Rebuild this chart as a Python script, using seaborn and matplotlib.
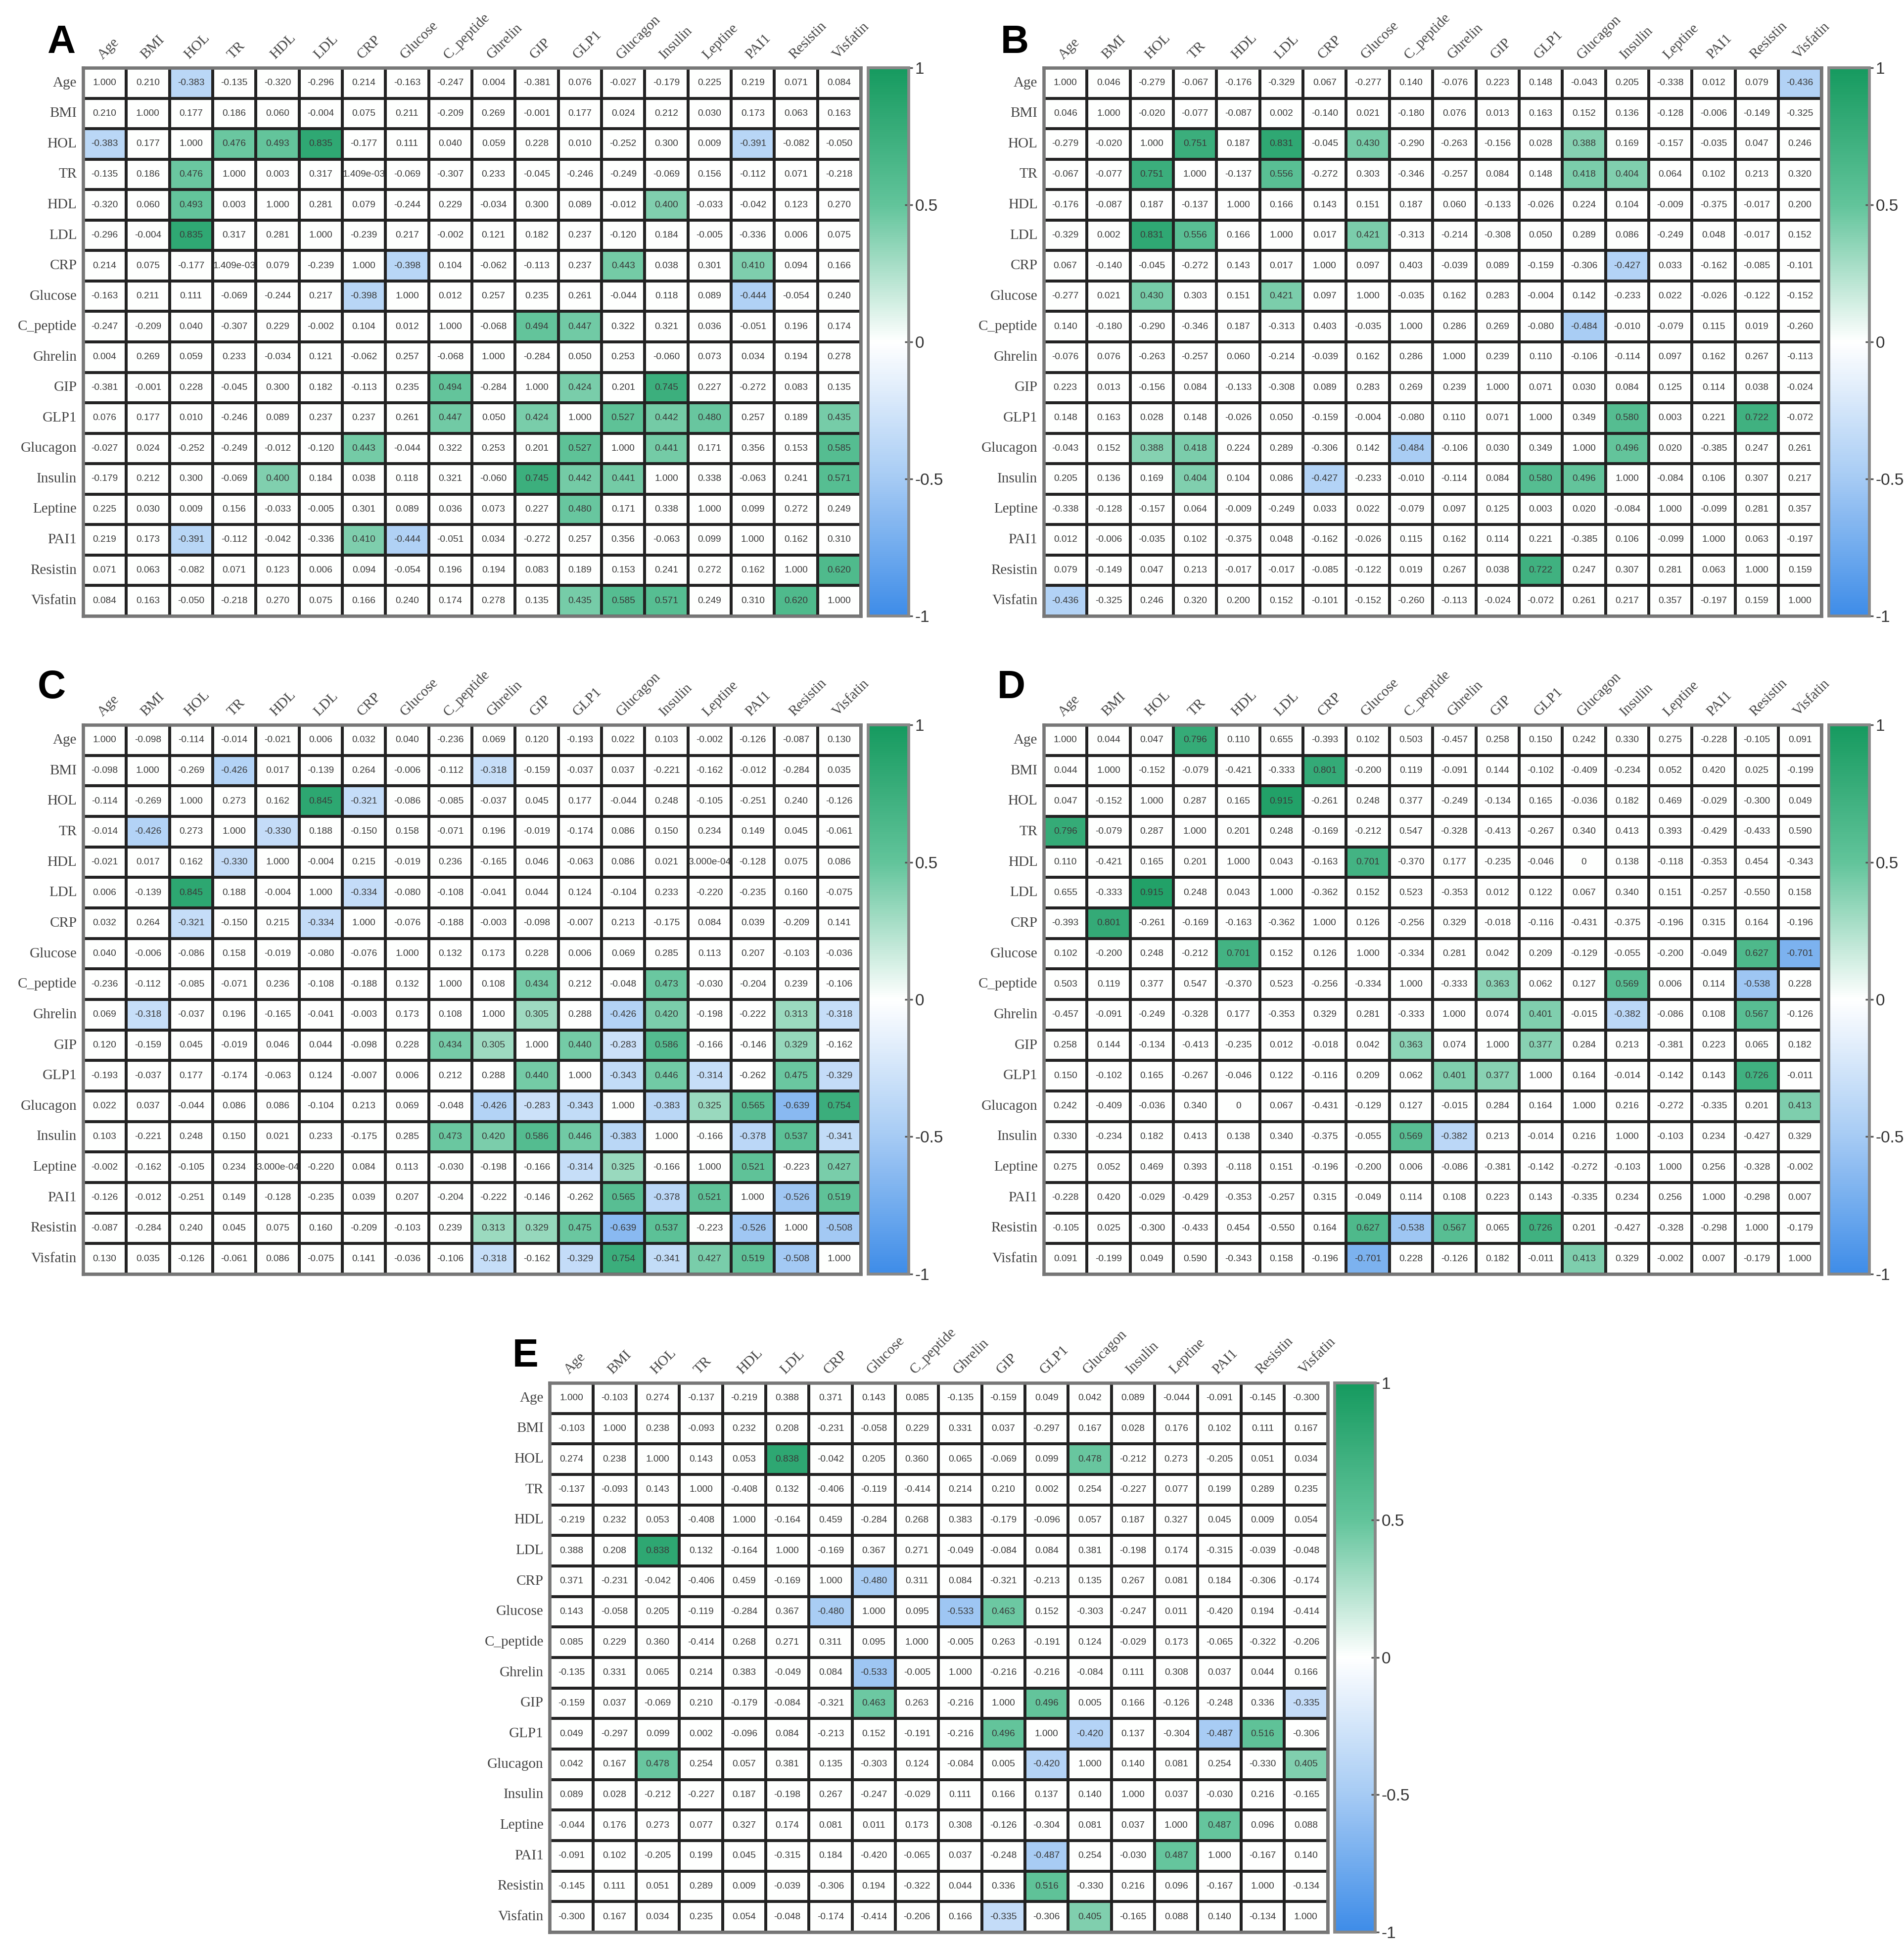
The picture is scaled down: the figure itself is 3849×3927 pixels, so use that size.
import numpy as np
import matplotlib
matplotlib.use("Agg")
import matplotlib.pyplot as plt
from matplotlib.colors import LinearSegmentedColormap
import seaborn as sns

labels = ["Age", "BMI", "HOL", "TR", "HDL", "LDL", "CRP", "Glucose", "C_peptide",
          "Ghrelin", "GIP", "GLP1", "Glucagon", "Insulin", "Leptine", "PAI1",
          "Resistin", "Visfatin"]

corr_a = [
    [1.000, 0.210, -0.383, -0.135, -0.320, -0.296, 0.214, -0.163, -0.247, 0.004, -0.381, 0.076, -0.027, -0.179, 0.225, 0.219, 0.071, 0.084],
    [0.210, 1.000, 0.177, 0.186, 0.060, -0.004, 0.075, 0.211, -0.209, 0.269, -0.001, 0.177, 0.024, 0.212, 0.030, 0.173, 0.063, 0.163],
    [-0.383, 0.177, 1.000, 0.476, 0.493, 0.835, -0.177, 0.111, 0.040, 0.059, 0.228, 0.010, -0.252, 0.300, 0.009, -0.391, -0.082, -0.050],
    [-0.135, 0.186, 0.476, 1.000, 0.003, 0.317, 1.409e-03, -0.069, -0.307, 0.233, -0.045, -0.246, -0.249, -0.069, 0.156, -0.112, 0.071, -0.218],
    [-0.320, 0.060, 0.493, 0.003, 1.000, 0.281, 0.079, -0.244, 0.229, -0.034, 0.300, 0.089, -0.012, 0.400, -0.033, -0.042, 0.123, 0.270],
    [-0.296, -0.004, 0.835, 0.317, 0.281, 1.000, -0.239, 0.217, -0.002, 0.121, 0.182, 0.237, -0.120, 0.184, -0.005, -0.336, 0.006, 0.075],
    [0.214, 0.075, -0.177, 1.409e-03, 0.079, -0.239, 1.000, -0.398, 0.104, -0.062, -0.113, 0.237, 0.443, 0.038, 0.301, 0.410, 0.094, 0.166],
    [-0.163, 0.211, 0.111, -0.069, -0.244, 0.217, -0.398, 1.000, 0.012, 0.257, 0.235, 0.261, -0.044, 0.118, 0.089, -0.444, -0.054, 0.240],
    [-0.247, -0.209, 0.040, -0.307, 0.229, -0.002, 0.104, 0.012, 1.000, -0.068, 0.494, 0.447, 0.322, 0.321, 0.036, -0.051, 0.196, 0.174],
    [0.004, 0.269, 0.059, 0.233, -0.034, 0.121, -0.062, 0.257, -0.068, 1.000, -0.284, 0.050, 0.253, -0.060, 0.073, 0.034, 0.194, 0.278],
    [-0.381, -0.001, 0.228, -0.045, 0.300, 0.182, -0.113, 0.235, 0.494, -0.284, 1.000, 0.424, 0.201, 0.745, 0.227, -0.272, 0.083, 0.135],
    [0.076, 0.177, 0.010, -0.246, 0.089, 0.237, 0.237, 0.261, 0.447, 0.050, 0.424, 1.000, 0.527, 0.442, 0.480, 0.257, 0.189, 0.435],
    [-0.027, 0.024, -0.252, -0.249, -0.012, -0.120, 0.443, -0.044, 0.322, 0.253, 0.201, 0.527, 1.000, 0.441, 0.171, 0.356, 0.153, 0.585],
    [-0.179, 0.212, 0.300, -0.069, 0.400, 0.184, 0.038, 0.118, 0.321, -0.060, 0.745, 0.442, 0.441, 1.000, 0.338, -0.063, 0.241, 0.571],
    [0.225, 0.030, 0.009, 0.156, -0.033, -0.005, 0.301, 0.089, 0.036, 0.073, 0.227, 0.480, 0.171, 0.338, 1.000, 0.099, 0.272, 0.249],
    [0.219, 0.173, -0.391, -0.112, -0.042, -0.336, 0.410, -0.444, -0.051, 0.034, -0.272, 0.257, 0.356, -0.063, 0.099, 1.000, 0.162, 0.310],
    [0.071, 0.063, -0.082, 0.071, 0.123, 0.006, 0.094, -0.054, 0.196, 0.194, 0.083, 0.189, 0.153, 0.241, 0.272, 0.162, 1.000, 0.620],
    [0.084, 0.163, -0.050, -0.218, 0.270, 0.075, 0.166, 0.240, 0.174, 0.278, 0.135, 0.435, 0.585, 0.571, 0.249, 0.310, 0.620, 1.000],
]

corr_b = [
    [1.000, 0.046, -0.279, -0.067, -0.176, -0.329, 0.067, -0.277, 0.140, -0.076, 0.223, 0.148, -0.043, 0.205, -0.338, 0.012, 0.079, -0.436],
    [0.046, 1.000, -0.020, -0.077, -0.087, 0.002, -0.140, 0.021, -0.180, 0.076, 0.013, 0.163, 0.152, 0.136, -0.128, -0.006, -0.149, -0.325],
    [-0.279, -0.020, 1.000, 0.751, 0.187, 0.831, -0.045, 0.430, -0.290, -0.263, -0.156, 0.028, 0.388, 0.169, -0.157, -0.035, 0.047, 0.246],
    [-0.067, -0.077, 0.751, 1.000, -0.137, 0.556, -0.272, 0.303, -0.346, -0.257, 0.084, 0.148, 0.418, 0.404, 0.064, 0.102, 0.213, 0.320],
    [-0.176, -0.087, 0.187, -0.137, 1.000, 0.166, 0.143, 0.151, 0.187, 0.060, -0.133, -0.026, 0.224, 0.104, -0.009, -0.375, -0.017, 0.200],
    [-0.329, 0.002, 0.831, 0.556, 0.166, 1.000, 0.017, 0.421, -0.313, -0.214, -0.308, 0.050, 0.289, 0.086, -0.249, 0.048, -0.017, 0.152],
    [0.067, -0.140, -0.045, -0.272, 0.143, 0.017, 1.000, 0.097, 0.403, -0.039, 0.089, -0.159, -0.306, -0.427, 0.033, -0.162, -0.085, -0.101],
    [-0.277, 0.021, 0.430, 0.303, 0.151, 0.421, 0.097, 1.000, -0.035, 0.162, 0.283, -0.004, 0.142, -0.233, 0.022, -0.026, -0.122, -0.152],
    [0.140, -0.180, -0.290, -0.346, 0.187, -0.313, 0.403, -0.035, 1.000, 0.286, 0.269, -0.080, -0.484, -0.010, -0.079, 0.115, 0.019, -0.260],
    [-0.076, 0.076, -0.263, -0.257, 0.060, -0.214, -0.039, 0.162, 0.286, 1.000, 0.239, 0.110, -0.106, -0.114, 0.097, 0.162, 0.267, -0.113],
    [0.223, 0.013, -0.156, 0.084, -0.133, -0.308, 0.089, 0.283, 0.269, 0.239, 1.000, 0.071, 0.030, 0.084, 0.125, 0.114, 0.038, -0.024],
    [0.148, 0.163, 0.028, 0.148, -0.026, 0.050, -0.159, -0.004, -0.080, 0.110, 0.071, 1.000, 0.349, 0.580, 0.003, 0.221, 0.722, -0.072],
    [-0.043, 0.152, 0.388, 0.418, 0.224, 0.289, -0.306, 0.142, -0.484, -0.106, 0.030, 0.349, 1.000, 0.496, 0.020, -0.385, 0.247, 0.261],
    [0.205, 0.136, 0.169, 0.404, 0.104, 0.086, -0.427, -0.233, -0.010, -0.114, 0.084, 0.580, 0.496, 1.000, -0.084, 0.106, 0.307, 0.217],
    [-0.338, -0.128, -0.157, 0.064, -0.009, -0.249, 0.033, 0.022, -0.079, 0.097, 0.125, 0.003, 0.020, -0.084, 1.000, -0.099, 0.281, 0.357],
    [0.012, -0.006, -0.035, 0.102, -0.375, 0.048, -0.162, -0.026, 0.115, 0.162, 0.114, 0.221, -0.385, 0.106, -0.099, 1.000, 0.063, -0.197],
    [0.079, -0.149, 0.047, 0.213, -0.017, -0.017, -0.085, -0.122, 0.019, 0.267, 0.038, 0.722, 0.247, 0.307, 0.281, 0.063, 1.000, 0.159],
    [-0.436, -0.325, 0.246, 0.320, 0.200, 0.152, -0.101, -0.152, -0.260, -0.113, -0.024, -0.072, 0.261, 0.217, 0.357, -0.197, 0.159, 1.000],
]

corr_c = [
    [1.000, -0.098, -0.114, -0.014, -0.021, 0.006, 0.032, 0.040, -0.236, 0.069, 0.120, -0.193, 0.022, 0.103, -0.002, -0.126, -0.087, 0.130],
    [-0.098, 1.000, -0.269, -0.426, 0.017, -0.139, 0.264, -0.006, -0.112, -0.318, -0.159, -0.037, 0.037, -0.221, -0.162, -0.012, -0.284, 0.035],
    [-0.114, -0.269, 1.000, 0.273, 0.162, 0.845, -0.321, -0.086, -0.085, -0.037, 0.045, 0.177, -0.044, 0.248, -0.105, -0.251, 0.240, -0.126],
    [-0.014, -0.426, 0.273, 1.000, -0.330, 0.188, -0.150, 0.158, -0.071, 0.196, -0.019, -0.174, 0.086, 0.150, 0.234, 0.149, 0.045, -0.061],
    [-0.021, 0.017, 0.162, -0.330, 1.000, -0.004, 0.215, -0.019, 0.236, -0.165, 0.046, -0.063, 0.086, 0.021, 3.0e-04, -0.128, 0.075, 0.086],
    [0.006, -0.139, 0.845, 0.188, -0.004, 1.000, -0.334, -0.080, -0.108, -0.041, 0.044, 0.124, -0.104, 0.233, -0.220, -0.235, 0.160, -0.075],
    [0.032, 0.264, -0.321, -0.150, 0.215, -0.334, 1.000, -0.076, -0.188, -0.003, -0.098, -0.007, 0.213, -0.175, 0.084, 0.039, -0.209, 0.141],
    [0.040, -0.006, -0.086, 0.158, -0.019, -0.080, -0.076, 1.000, 0.132, 0.173, 0.228, 0.006, 0.069, 0.285, 0.113, 0.207, -0.103, -0.036],
    [-0.236, -0.112, -0.085, -0.071, 0.236, -0.108, -0.188, 0.132, 1.000, 0.108, 0.434, 0.212, -0.048, 0.473, -0.030, -0.204, 0.239, -0.106],
    [0.069, -0.318, -0.037, 0.196, -0.165, -0.041, -0.003, 0.173, 0.108, 1.000, 0.305, 0.288, -0.426, 0.420, -0.198, -0.222, 0.313, -0.318],
    [0.120, -0.159, 0.045, -0.019, 0.046, 0.044, -0.098, 0.228, 0.434, 0.305, 1.000, 0.440, -0.283, 0.586, -0.166, -0.146, 0.329, -0.162],
    [-0.193, -0.037, 0.177, -0.174, -0.063, 0.124, -0.007, 0.006, 0.212, 0.288, 0.440, 1.000, -0.343, 0.446, -0.314, -0.262, 0.475, -0.329],
    [0.022, 0.037, -0.044, 0.086, 0.086, -0.104, 0.213, 0.069, -0.048, -0.426, -0.283, -0.343, 1.000, -0.383, 0.325, 0.565, -0.639, 0.754],
    [0.103, -0.221, 0.248, 0.150, 0.021, 0.233, -0.175, 0.285, 0.473, 0.420, 0.586, 0.446, -0.383, 1.000, -0.166, -0.378, 0.537, -0.341],
    [-0.002, -0.162, -0.105, 0.234, 3.0e-04, -0.220, 0.084, 0.113, -0.030, -0.198, -0.166, -0.314, 0.325, -0.166, 1.000, 0.521, -0.223, 0.427],
    [-0.126, -0.012, -0.251, 0.149, -0.128, -0.235, 0.039, 0.207, -0.204, -0.222, -0.146, -0.262, 0.565, -0.378, 0.521, 1.000, -0.526, 0.519],
    [-0.087, -0.284, 0.240, 0.045, 0.075, 0.160, -0.209, -0.103, 0.239, 0.313, 0.329, 0.475, -0.639, 0.537, -0.223, -0.526, 1.000, -0.508],
    [0.130, 0.035, -0.126, -0.061, 0.086, -0.075, 0.141, -0.036, -0.106, -0.318, -0.162, -0.329, 0.754, -0.341, 0.427, 0.519, -0.508, 1.000],
]

corr_d = [
    [1.000, 0.044, 0.047, 0.796, 0.110, 0.655, -0.393, 0.102, 0.503, -0.457, 0.258, 0.150, 0.242, 0.330, 0.275, -0.228, -0.105, 0.091],
    [0.044, 1.000, -0.152, -0.079, -0.421, -0.333, 0.801, -0.200, 0.119, -0.091, 0.144, -0.102, -0.409, -0.234, 0.052, 0.420, 0.025, -0.199],
    [0.047, -0.152, 1.000, 0.287, 0.165, 0.915, -0.261, 0.248, 0.377, -0.249, -0.134, 0.165, -0.036, 0.182, 0.469, -0.029, -0.300, 0.049],
    [0.796, -0.079, 0.287, 1.000, 0.201, 0.248, -0.169, -0.212, 0.547, -0.328, -0.413, -0.267, 0.340, 0.413, 0.393, -0.429, -0.433, 0.590],
    [0.110, -0.421, 0.165, 0.201, 1.000, 0.043, -0.163, 0.701, -0.370, 0.177, -0.235, -0.046, 0, 0.138, -0.118, -0.353, 0.454, -0.343],
    [0.655, -0.333, 0.915, 0.248, 0.043, 1.000, -0.362, 0.152, 0.523, -0.353, 0.012, 0.122, 0.067, 0.340, 0.151, -0.257, -0.550, 0.158],
    [-0.393, 0.801, -0.261, -0.169, -0.163, -0.362, 1.000, 0.126, -0.256, 0.329, -0.018, -0.116, -0.431, -0.375, -0.196, 0.315, 0.164, -0.196],
    [0.102, -0.200, 0.248, -0.212, 0.701, 0.152, 0.126, 1.000, -0.334, 0.281, 0.042, 0.209, -0.129, -0.055, -0.200, -0.049, 0.627, -0.701],
    [0.503, 0.119, 0.377, 0.547, -0.370, 0.523, -0.256, -0.334, 1.000, -0.333, 0.363, 0.062, 0.127, 0.569, 0.006, 0.114, -0.538, 0.228],
    [-0.457, -0.091, -0.249, -0.328, 0.177, -0.353, 0.329, 0.281, -0.333, 1.000, 0.074, 0.401, -0.015, -0.382, -0.086, 0.108, 0.567, -0.126],
    [0.258, 0.144, -0.134, -0.413, -0.235, 0.012, -0.018, 0.042, 0.363, 0.074, 1.000, 0.377, 0.284, 0.213, -0.381, 0.223, 0.065, 0.182],
    [0.150, -0.102, 0.165, -0.267, -0.046, 0.122, -0.116, 0.209, 0.062, 0.401, 0.377, 1.000, 0.164, -0.014, -0.142, 0.143, 0.726, -0.011],
    [0.242, -0.409, -0.036, 0.340, 0, 0.067, -0.431, -0.129, 0.127, -0.015, 0.284, 0.164, 1.000, 0.216, -0.272, -0.335, 0.201, 0.413],
    [0.330, -0.234, 0.182, 0.413, 0.138, 0.340, -0.375, -0.055, 0.569, -0.382, 0.213, -0.014, 0.216, 1.000, -0.103, 0.234, -0.427, 0.329],
    [0.275, 0.052, 0.469, 0.393, -0.118, 0.151, -0.196, -0.200, 0.006, -0.086, -0.381, -0.142, -0.272, -0.103, 1.000, 0.256, -0.328, -0.002],
    [-0.228, 0.420, -0.029, -0.429, -0.353, -0.257, 0.315, -0.049, 0.114, 0.108, 0.223, 0.143, -0.335, 0.234, 0.256, 1.000, -0.298, 0.007],
    [-0.105, 0.025, -0.300, -0.433, 0.454, -0.550, 0.164, 0.627, -0.538, 0.567, 0.065, 0.726, 0.201, -0.427, -0.328, -0.298, 1.000, -0.179],
    [0.091, -0.199, 0.049, 0.590, -0.343, 0.158, -0.196, -0.701, 0.228, -0.126, 0.182, -0.011, 0.413, 0.329, -0.002, 0.007, -0.179, 1.000],
]

corr_e = [
    [1.000, -0.103, 0.274, -0.137, -0.219, 0.388, 0.371, 0.143, 0.085, -0.135, -0.159, 0.049, 0.042, 0.089, -0.044, -0.091, -0.145, -0.300],
    [-0.103, 1.000, 0.238, -0.093, 0.232, 0.208, -0.231, -0.058, 0.229, 0.331, 0.037, -0.297, 0.167, 0.028, 0.176, 0.102, 0.111, 0.167],
    [0.274, 0.238, 1.000, 0.143, 0.053, 0.838, -0.042, 0.205, 0.360, 0.065, -0.069, 0.099, 0.478, -0.212, 0.273, -0.205, 0.051, 0.034],
    [-0.137, -0.093, 0.143, 1.000, -0.408, 0.132, -0.406, -0.119, -0.414, 0.214, 0.210, 0.002, 0.254, -0.227, 0.077, 0.199, 0.289, 0.235],
    [-0.219, 0.232, 0.053, -0.408, 1.000, -0.164, 0.459, -0.284, 0.268, 0.383, -0.179, -0.096, 0.057, 0.187, 0.327, 0.045, 0.009, 0.054],
    [0.388, 0.208, 0.838, 0.132, -0.164, 1.000, -0.169, 0.367, 0.271, -0.049, -0.084, 0.084, 0.381, -0.198, 0.174, -0.315, -0.039, -0.048],
    [0.371, -0.231, -0.042, -0.406, 0.459, -0.169, 1.000, -0.480, 0.311, 0.084, -0.321, -0.213, 0.135, 0.267, 0.081, 0.184, -0.306, -0.174],
    [0.143, -0.058, 0.205, -0.119, -0.284, 0.367, -0.480, 1.000, 0.095, -0.533, 0.463, 0.152, -0.303, -0.247, 0.011, -0.420, 0.194, -0.414],
    [0.085, 0.229, 0.360, -0.414, 0.268, 0.271, 0.311, 0.095, 1.000, -0.005, 0.263, -0.191, 0.124, -0.029, 0.173, -0.065, -0.322, -0.206],
    [-0.135, 0.331, 0.065, 0.214, 0.383, -0.049, 0.084, -0.533, -0.005, 1.000, -0.216, -0.216, -0.084, 0.111, 0.308, 0.037, 0.044, 0.166],
    [-0.159, 0.037, -0.069, 0.210, -0.179, -0.084, -0.321, 0.463, 0.263, -0.216, 1.000, 0.496, 0.005, 0.166, -0.126, -0.248, 0.336, -0.335],
    [0.049, -0.297, 0.099, 0.002, -0.096, 0.084, -0.213, 0.152, -0.191, -0.216, 0.496, 1.000, -0.420, 0.137, -0.304, -0.487, 0.516, -0.306],
    [0.042, 0.167, 0.478, 0.254, 0.057, 0.381, 0.135, -0.303, 0.124, -0.084, 0.005, -0.420, 1.000, 0.140, 0.081, 0.254, -0.330, 0.405],
    [0.089, 0.028, -0.212, -0.227, 0.187, -0.198, 0.267, -0.247, -0.029, 0.111, 0.166, 0.137, 0.140, 1.000, 0.037, -0.030, 0.216, -0.165],
    [-0.044, 0.176, 0.273, 0.077, 0.327, 0.174, 0.081, 0.011, 0.173, 0.308, -0.126, -0.304, 0.081, 0.037, 1.000, 0.487, 0.096, 0.088],
    [-0.091, 0.102, -0.205, 0.199, 0.045, -0.315, 0.184, -0.420, -0.065, 0.037, -0.248, -0.487, 0.254, -0.030, 0.487, 1.000, -0.167, 0.140],
    [-0.145, 0.111, 0.051, 0.289, 0.009, -0.039, -0.306, 0.194, -0.322, 0.044, 0.336, 0.516, -0.330, 0.216, 0.096, -0.167, 1.000, -0.134],
    [-0.300, 0.167, 0.034, 0.235, 0.054, -0.048, -0.174, -0.414, -0.206, 0.166, -0.335, -0.306, 0.405, -0.165, 0.088, 0.140, -0.134, 1.000],
]

# cells that are shaded in each panel (the rest stay white)
shaded_a = [("Age", "HOL"), ("HOL", "TR"), ("HOL", "HDL"), ("HOL", "LDL"), ("HOL", "PAI1"),
            ("HDL", "Insulin"), ("CRP", "Glucose"), ("CRP", "Glucagon"), ("CRP", "PAI1"),
            ("Glucose", "PAI1"), ("C_peptide", "GIP"), ("C_peptide", "GLP1"), ("GIP", "GLP1"),
            ("GIP", "Insulin"), ("GLP1", "Glucagon"), ("GLP1", "Insulin"), ("GLP1", "Leptine"),
            ("GLP1", "Visfatin"), ("Glucagon", "Insulin"), ("Glucagon", "Visfatin"),
            ("Insulin", "Visfatin"), ("Resistin", "Visfatin")]
shaded_b = [("Age", "Visfatin"), ("HOL", "TR"), ("HOL", "LDL"), ("HOL", "Glucose"),
            ("HOL", "Glucagon"), ("TR", "LDL"), ("TR", "Glucagon"), ("TR", "Insulin"),
            ("LDL", "Glucose"), ("CRP", "Insulin"), ("C_peptide", "Glucagon"),
            ("GLP1", "Insulin"), ("GLP1", "Resistin"), ("Glucagon", "Insulin")]
shaded_c = [("BMI", "TR"), ("BMI", "Ghrelin"), ("HOL", "LDL"), ("HOL", "CRP"), ("TR", "HDL"),
            ("LDL", "CRP"), ("C_peptide", "GIP"), ("C_peptide", "Insulin"), ("Ghrelin", "GIP"),
            ("Ghrelin", "Glucagon"), ("Ghrelin", "Insulin"), ("Ghrelin", "Resistin"),
            ("Ghrelin", "Visfatin"), ("GIP", "GLP1"), ("GIP", "Glucagon"), ("GIP", "Insulin"),
            ("GIP", "Resistin"), ("GLP1", "Glucagon"), ("GLP1", "Insulin"), ("GLP1", "Leptine"),
            ("GLP1", "Resistin"), ("GLP1", "Visfatin"), ("Glucagon", "Insulin"),
            ("Glucagon", "Leptine"), ("Glucagon", "PAI1"), ("Glucagon", "Resistin"),
            ("Glucagon", "Visfatin"), ("Insulin", "PAI1"), ("Insulin", "Resistin"),
            ("Insulin", "Visfatin"), ("Leptine", "PAI1"), ("Leptine", "Visfatin"),
            ("PAI1", "Resistin"), ("PAI1", "Visfatin"), ("Resistin", "Visfatin")]
shaded_d = [("Age", "TR"), ("BMI", "CRP"), ("HOL", "LDL"), ("HDL", "Glucose"),
            ("Glucose", "Resistin"), ("Glucose", "Visfatin"), ("C_peptide", "GIP"),
            ("C_peptide", "Insulin"), ("C_peptide", "Resistin"), ("Ghrelin", "GLP1"),
            ("Ghrelin", "Insulin"), ("Ghrelin", "Resistin"), ("GIP", "GLP1"),
            ("GLP1", "Resistin"), ("Glucagon", "Visfatin")]
shaded_e = [("HOL", "LDL"), ("HOL", "Glucagon"), ("CRP", "Glucose"), ("Glucose", "Ghrelin"),
            ("Glucose", "GIP"), ("GIP", "GLP1"), ("GIP", "Visfatin"), ("GLP1", "Glucagon"),
            ("GLP1", "PAI1"), ("GLP1", "Resistin"), ("Leptine", "PAI1"), ("Glucagon", "Visfatin")]

plt.rcParams["font.family"] = ["Liberation Serif", "DejaVu Serif"]

cmap = LinearSegmentedColormap.from_list(
    "gw", [(0.0, "#3e8ce8"), (0.25, "#a6cbf4"), (0.5, "#ffffff"),
           (0.75, "#62c49b"), (1.0, "#169a5f")])


def cell_text(v):
    if v == 0:
        return "0"
    # values the source printed in exponent form
    if abs(v) < 0.002 and round(v, 3) != v:
        return f"{v:.3e}"
    return f"{v:.3f}"


def draw_panel(fig, rect, cbar_rect, corr, shaded, letter, letter_xy):
    vals = np.array(corr, dtype=float)
    idx = {n: i for i, n in enumerate(labels)}
    shade = np.zeros_like(vals)
    for r, c in shaded:
        i, j = idx[r], idx[c]
        shade[i, j] = vals[i, j]
        shade[j, i] = vals[j, i]
    annot = np.array([[cell_text(v) for v in row] for row in vals])

    ax = fig.add_axes(rect)
    cax = fig.add_axes(cbar_rect)
    sns.heatmap(shade, ax=ax, cbar_ax=cax, cmap=cmap, vmin=-1, vmax=1,
                annot=annot, fmt="", linewidths=1.0, linecolor="#222222",
                annot_kws={"fontsize": 4.6, "color": "#3a3a3a",
                           "family": ["Liberation Sans Narrow", "Liberation Sans", "DejaVu Sans"]},
                xticklabels=labels, yticklabels=labels, square=False,
                cbar_kws={"ticks": [-1, -0.5, 0, 0.5, 1]})
    ax.xaxis.tick_top()
    ax.set_xticklabels(labels, rotation=45, ha="left", va="bottom",
                       rotation_mode="anchor", fontsize=7, color="#444444")
    ax.set_yticklabels(labels, rotation=0, fontsize=7, color="#444444")
    ax.tick_params(axis="both", length=0, pad=3)
    for s in ax.spines.values():
        s.set_visible(True)
        s.set_color("#777777")
        s.set_linewidth(1.6)

    cbar = ax.collections[0].colorbar
    cax.set_yticks([-1, -0.5, 0, 0.5, 1])
    cax.set_yticklabels(["-1", "-0.5", "0", "0.5", "1"],
                        family=["Liberation Sans", "DejaVu Sans"], fontsize=8, color="#333333")
    cax.tick_params(axis="y", direction="inout", length=4, width=0.8, colors="#555555",
                    labelcolor="#333333", pad=1)
    cbar.outline.set_edgecolor("#888888")
    cbar.outline.set_linewidth(1.4)

    fig.text(letter_xy[0], letter_xy[1], letter, fontsize=19, fontweight="bold",
             family=["Liberation Sans", "DejaVu Sans"], ha="center", va="center")


fig = plt.figure(figsize=(3849 / 300, 3927 / 300), dpi=300)

w = 0.4085
cw = 0.0213
h_top = 0.9651 - 0.6830
h_mid = 0.6269 - 0.3443
h_bot = 0.2883 - 0.0056
draw_panel(fig, [0.0436, 0.6830, w, h_top], [0.456, 0.6830, cw, h_top],
           corr_a, shaded_a, "A", (0.032, 0.978))
draw_panel(fig, [0.5482, 0.6830, w, h_top], [0.9605, 0.6830, cw, h_top],
           corr_b, shaded_b, "B", (0.533, 0.978))
draw_panel(fig, [0.0436, 0.3443, w, h_mid], [0.456, 0.3443, cw, h_mid],
           corr_c, shaded_c, "C", (0.027, 0.646))
draw_panel(fig, [0.5482, 0.3443, w, h_mid], [0.9605, 0.3443, cw, h_mid],
           corr_d, shaded_d, "D", (0.531, 0.646))
draw_panel(fig, [0.2887, 0.0056, w, h_bot], [0.701, 0.0056, cw, h_bot],
           corr_e, shaded_e, "E", (0.276, 0.302))

fig.savefig("out.png", dpi=300, facecolor="white")
